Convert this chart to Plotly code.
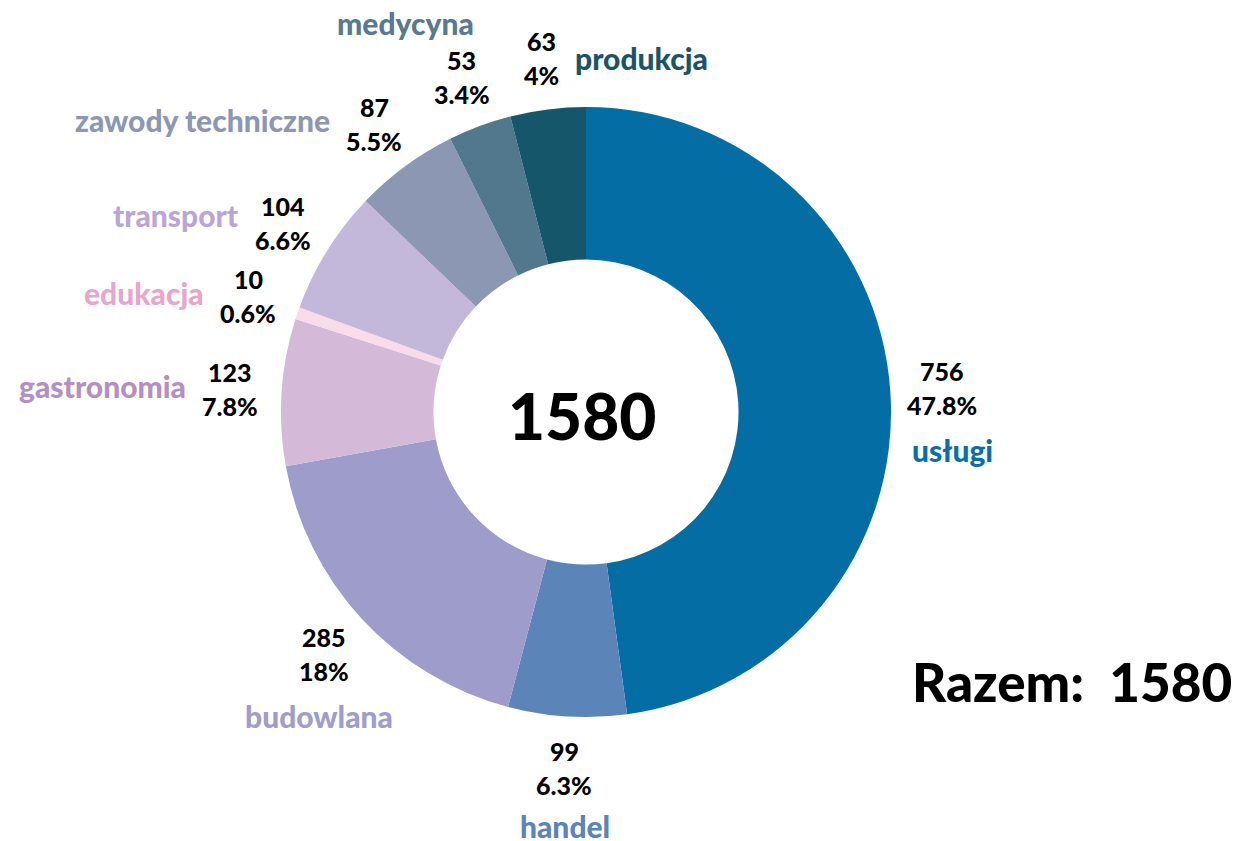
import math
import plotly.graph_objects as go

# Branże – liczba ofert
categories = ["usługi", "handel", "budowlana", "gastronomia", "edukacja",
              "transport", "zawody techniczne", "medycyna", "produkcja"]
counts = [756, 99, 285, 123, 10, 104, 87, 53, 63]
pct_labels = ["47.8%", "6.3%", "18%", "7.8%", "0.6%", "6.6%", "5.5%", "3.4%", "4%"]

slice_colors = ["#046ea4", "#5b84b8", "#9e9ccb", "#d5b9d8", "#fadbe9",
                "#c4b8da", "#8c97b3", "#52788d", "#15566a"]
name_colors = ["#0b6fa5", "#5b84b8", "#a09ccc", "#b48fc1", "#e7a6cb",
               "#b9a6d5", "#8c97b3", "#58798f", "#1b5466"]

# where each category name sits relative to its value block (side, dx, dy in px)
name_place = [("below", 10, 0), ("below", 1, -4), ("below", -5, 0), ("left", 0, -3),
              ("left", 0, -3), ("left", 0, -8), ("left", 0, -4),
              ("above", -56, 0), ("right", 0, 0)]

W, H = 1235, 841
dom_x = [0.2275, 0.7215]
dom_y = [0.1474, 0.8728]
cx = (dom_x[0] + dom_x[1]) / 2 * W
cy = (1 - (dom_y[0] + dom_y[1]) / 2) * H
r_label = 357
line_gap = 17

FONT = "Lato"

fig = go.Figure(go.Pie(
    labels=categories,
    values=counts,
    sort=False,
    direction="clockwise",
    rotation=0,
    hole=0.5,
    marker=dict(colors=slice_colors, line=dict(width=0)),
    textinfo="none",
    hoverinfo="label+value+percent",
    showlegend=False,
    domain=dict(x=dom_x, y=dom_y),
))


def px(x, y):
    return x / W, 1 - y / H


total = sum(counts)
annotations = []
acc = 0
for i, (cat, v) in enumerate(zip(categories, counts)):
    mid = (acc + v / 2) / total * 360
    acc += v
    th = math.radians(mid)
    bx = cx + r_label * math.sin(th)
    by = cy - r_label * math.cos(th)
    for text, yy in ((str(v), by - line_gap), (pct_labels[i], by + line_gap)):
        ax, ay = px(bx, yy)
        annotations.append(dict(x=ax, y=ay, xref="paper", yref="paper", text=text,
                                showarrow=False, xanchor="center", yanchor="middle",
                                font=dict(family=FONT, size=25, color="#000000", weight=900)))
    place, dx, dy = name_place[i]
    if place == "below":
        nx, ny, xa = bx + dx, by + 62 + dy, "center"
    elif place == "left":
        nx, ny, xa = bx - 42 + dx, by + dy, "right"
    elif place == "right":
        nx, ny, xa = bx + 32 + dx, by + dy, "left"
    else:
        nx, ny, xa = bx + dx, by - 54 + dy, "center"
    ax, ay = px(nx, ny)
    annotations.append(dict(x=ax, y=ay, xref="paper", yref="paper", text=cat,
                            showarrow=False, xanchor=xa, yanchor="middle",
                            font=dict(family=FONT, size=30, color=name_colors[i], weight=900)))

# total in the hole
ax, ay = px(cx - 4, cy + 3)
annotations.append(dict(x=ax, y=ay, xref="paper", yref="paper", text=str(total),
                        showarrow=False, xanchor="center", yanchor="middle",
                        font=dict(family=FONT, size=64, color="#000000", weight=900)))
# total in the corner
ax, ay = px(1234, 681)
annotations.append(dict(x=ax, y=ay, xref="paper", yref="paper",
                        text="Razem:&nbsp;&nbsp;" + str(total),
                        showarrow=False, xanchor="right", yanchor="middle",
                        font=dict(family=FONT, size=53, color="#000000", weight=900)))

fig.update_layout(
    width=W, height=H,
    margin=dict(l=0, r=0, t=0, b=0),
    paper_bgcolor="#ffffff",
    plot_bgcolor="#ffffff",
    annotations=annotations,
)

fig.write_html("out.html")
